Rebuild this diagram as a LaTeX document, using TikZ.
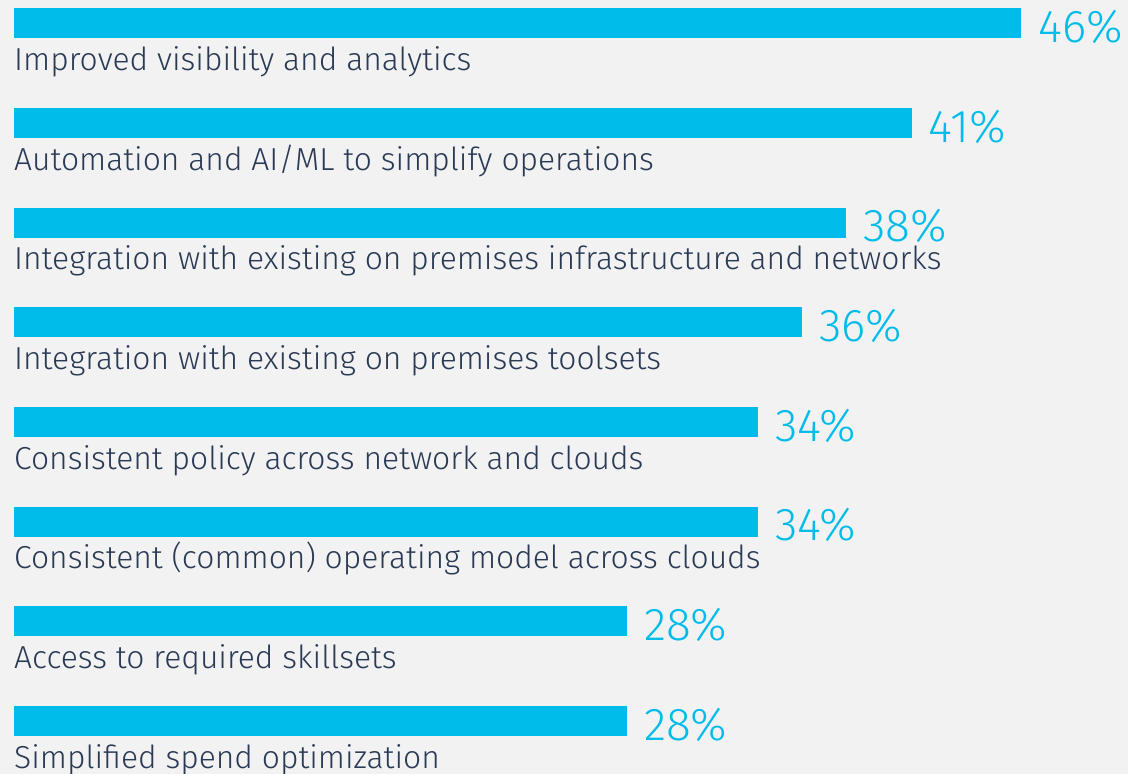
\documentclass[tikz,border=0pt]{standalone}
\usepackage{fontspec}
\setmainfont{Fira Sans Light}
\definecolor{barcyan}{HTML}{00BCEB}
\definecolor{bggray}{HTML}{F2F2F2}
\definecolor{labelnavy}{HTML}{2A3A55}
\tikzset{
    bar/.style={fill=barcyan},
    pct/.style={anchor=base west,inner sep=0pt,text=barcyan,font=\fontsize{46}{46}\selectfont},
    lbl/.style={anchor=base west,inner sep=0pt,text=labelnavy,font=\fontsize{31.8}{32}\selectfont}
}
\begin{document}
\begin{tikzpicture}[x=1pt,y=-1pt]
\fill[bggray] (0,0) rectangle (1128,774);
\useasboundingbox (0,0) rectangle (1128,774);
% bars
\fill[bar] (14,8) rectangle (1021,38);
\fill[bar] (14,108) rectangle (911.5,138);
\fill[bar] (14,207.5) rectangle (846,237.5);
\fill[bar] (14,307) rectangle (802,337);
\fill[bar] (14,407) rectangle (758,437);
\fill[bar] (14,506.5) rectangle (758,536.5);
\fill[bar] (14,606) rectangle (627,636);
\fill[bar] (14,706) rectangle (627,736);
% values
\begin{scope}
    \node[pct] (p1) at (1038,42) {46\%};
    \node[pct] (p2) at (928.5,142) {41\%};
    \node[pct] (p3) at (863,241.5) {38\%};
    \node[pct] (p4) at (819,341) {36\%};
    \node[pct] (p5) at (775,441) {34\%};
    \node[pct] (p6) at (775,540.5) {34\%};
    \node[pct] (p7) at (644,640) {28\%};
    \node[pct] (p8) at (644,740) {28\%};
\end{scope}
% labels
\begin{scope}
    \node[lbl] (l1) at (14,70) {Improved visibility and analytics};
    \node[lbl] (l2) at (14,170) {Automation and AI/ML to simplify operations};
    \node[lbl] (l3) at (14,269.5) {Integration with existing on premises infrastructure and networks};
    \node[lbl] (l4) at (14,369) {Integration with existing on premises toolsets};
    \node[lbl] (l5) at (14,469) {Consistent policy across network and clouds};
    \node[lbl] (l6) at (14,568.5) {Consistent (common) operating model across clouds};
    \node[lbl] (l7) at (14,668) {Access to required skillsets};
    \node[lbl] (l8) at (14,768) {Simplified spend optimization};
\end{scope}
\end{tikzpicture}
\end{document}
